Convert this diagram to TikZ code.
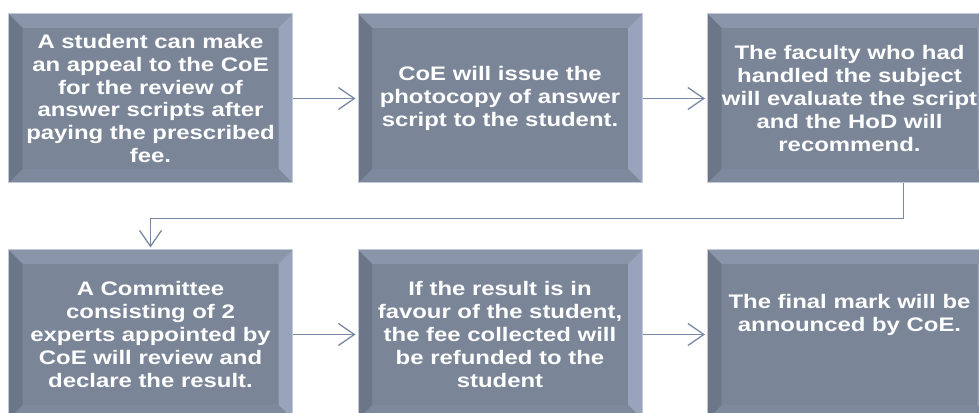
\documentclass[tikz,border=0pt]{standalone}
\usepackage{fontspec}
\usetikzlibrary{arrows.meta,calc}
\newfontfamily\boxfont{Liberation Sans}[FakeStretch=1.22,BoldFeatures={FakeStretch=1.22}]
\newcommand\boxtext{\boxfont\bfseries\fontsize{19.6pt}{22.8pt}\selectfont}
\definecolor{boxfill}{HTML}{7A8598}
\definecolor{bevtop}{HTML}{8A95AA}
\definecolor{bevright}{HTML}{98A4BB}
\definecolor{bevbottom}{HTML}{7E899E}
\definecolor{bevleft}{HTML}{6C7689}
\definecolor{boxedge}{HTML}{C3CAD5}
\definecolor{connector}{HTML}{7888A2}
\def\bevw{14pt}
\tikzset{
  stepbox/.style={
    minimum width=284pt, minimum height=169pt, inner sep=0pt,
    fill=boxfill, draw=boxedge, line width=1pt,
    text=white, font=\boxtext, align=center,
    path picture={
      \path (path picture bounding box.south west) coordinate (sw)
            (path picture bounding box.north east) coordinate (ne);
      \fill[bevtop] (sw|-ne) -- (ne) -- ($(ne)+(-\bevw,-\bevw)$) -- ($(sw|-ne)+(\bevw,-\bevw)$) -- cycle;
      \fill[bevright] (ne) -- (ne|-sw) -- ($(ne|-sw)+(-\bevw,\bevw)$) -- ($(ne)+(-\bevw,-\bevw)$) -- cycle;
      \fill[bevbottom] (ne|-sw) -- (sw) -- ($(sw)+(\bevw,\bevw)$) -- ($(ne|-sw)+(-\bevw,\bevw)$) -- cycle;
      \fill[bevleft] (sw) -- (sw|-ne) -- ($(sw|-ne)+(\bevw,-\bevw)$) -- ($(sw)+(\bevw,\bevw)$) -- cycle;
    }},
  steptext/.style={text=white, font=\boxtext, align=center, inner sep=0pt},
  conn/.style={draw=connector, line width=1.5pt, shorten >=2pt,
    -{Straight Barb[length=16pt,width=22pt,line width=1.3pt]}}
}
\begin{document}
\begin{tikzpicture}
\useasboundingbox (0,0) rectangle (979pt,412pt);
\clip (0,0) rectangle (979pt,412pt);

% top row
\node[stepbox] (box1) at (150.5pt,313.5pt) {A student can make\\an appeal to the CoE\\for the review of\\answer scripts after\\paying the prescribed\\fee.};
\node[stepbox] (box2) at (500pt,313.5pt) {CoE will issue the\\photocopy of answer\\script to the student.};
\node[stepbox] (box3) at (849.5pt,313.5pt) {The faculty who had\\handled the subject\\will evaluate the script\\and the HoD will\\recommend.};

% bottom row
\node[stepbox] (box4) at (150.5pt,77.5pt) {A Committee\\consisting of 2\\experts appointed by\\CoE will review and\\declare the result.};
\node[stepbox] (box5) at (500pt,77.5pt) {If the result is in\\favour of the student,\\the fee collected will\\be refunded to the\\student};
\node[stepbox] (box6) at (849.5pt,77.5pt) {};
\node[steptext] (box6text) at ([yshift=19.5pt]box6.center) {The final mark will be\\announced by CoE.};

% connectors
\draw[conn] (box1.east) -- (box2.west);
\draw[conn] (box2.east) -- (box3.west);
\draw[conn] ([xshift=54pt]box3.south) -- ++(0,-35pt) -| (box4.north);
\draw[conn] (box4.east) -- (box5.west);
\draw[conn] (box5.east) -- (box6.west);
\end{tikzpicture}
\end{document}
